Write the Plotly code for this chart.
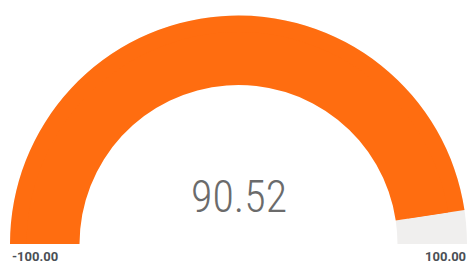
import plotly.graph_objects as go

value = 90.52
range_min = -100.0
range_max = 100.0
range_labels = [f"{range_min:.2f}", f"{range_max:.2f}"]

W, H = 469, 261
BAR_COLOR = "#FF6D10"
BG_COLOR = "#F0EFEE"

# gauge geometry in pixels (center x, center y from top, outer/inner radius)
CX, CY = 238.5, 244.0
R_OUT, R_IN = 228.5, 159.0
INNER_RATIO = 0.75  # plotly's fixed inner radius ratio of an angular gauge


def gauge_trace(radius, outer):
    gauge = dict(
        shape="angular",
        axis=dict(range=[range_min, range_max], visible=False),
        bar=dict(color=BAR_COLOR, thickness=1, line=dict(width=0)),
        borderwidth=0,
    )
    if outer:
        gauge["bgcolor"] = BG_COLOR
    else:
        gauge["bgcolor"] = "rgba(0,0,0,0)"
        gauge["steps"] = [dict(range=[value, range_max], color=BG_COLOR, thickness=1,
                               line=dict(width=0))]
    return go.Indicator(
        mode="gauge",
        value=value,
        domain=dict(x=[(CX - radius) / W, (CX + radius) / W],
                    y=[1 - CY / H, 1 - (CY - radius) / H]),
        gauge=gauge,
    )


fig = go.Figure()
# outer band and an inner band that together give the thicker ring
fig.add_trace(gauge_trace(R_OUT, True))
fig.add_trace(gauge_trace(R_IN / INNER_RATIO, False))

fig.add_annotation(x=CX / W, y=1 - 196.5 / H, xref="paper", yref="paper",
                   text=f"{value:.2f}", showarrow=False, xanchor="center", yanchor="middle",
                   font=dict(family="Roboto Condensed, Roboto", size=44,
                             color="#6b6b6b", weight=300))

fig.add_annotation(x=10 / W, y=4.5 / H, xref="paper", yref="paper", text=range_labels[0],
                   showarrow=False, xanchor="left", yanchor="middle",
                   font=dict(family="Roboto", size=13, color="#4a4f55", weight=700))
fig.add_annotation(x=468 / W, y=4.5 / H, xref="paper", yref="paper", text=range_labels[1],
                   showarrow=False, xanchor="right", yanchor="middle",
                   font=dict(family="Roboto", size=13, color="#4a4f55", weight=700))

fig.update_layout(width=W, height=H, margin=dict(l=0, r=0, t=0, b=0),
                  paper_bgcolor="white", plot_bgcolor="white")
fig.write_html("out.html", config=dict(displayModeBar=False),
               post_script="document.body.style.margin='0';document.body.style.overflow='hidden';")
